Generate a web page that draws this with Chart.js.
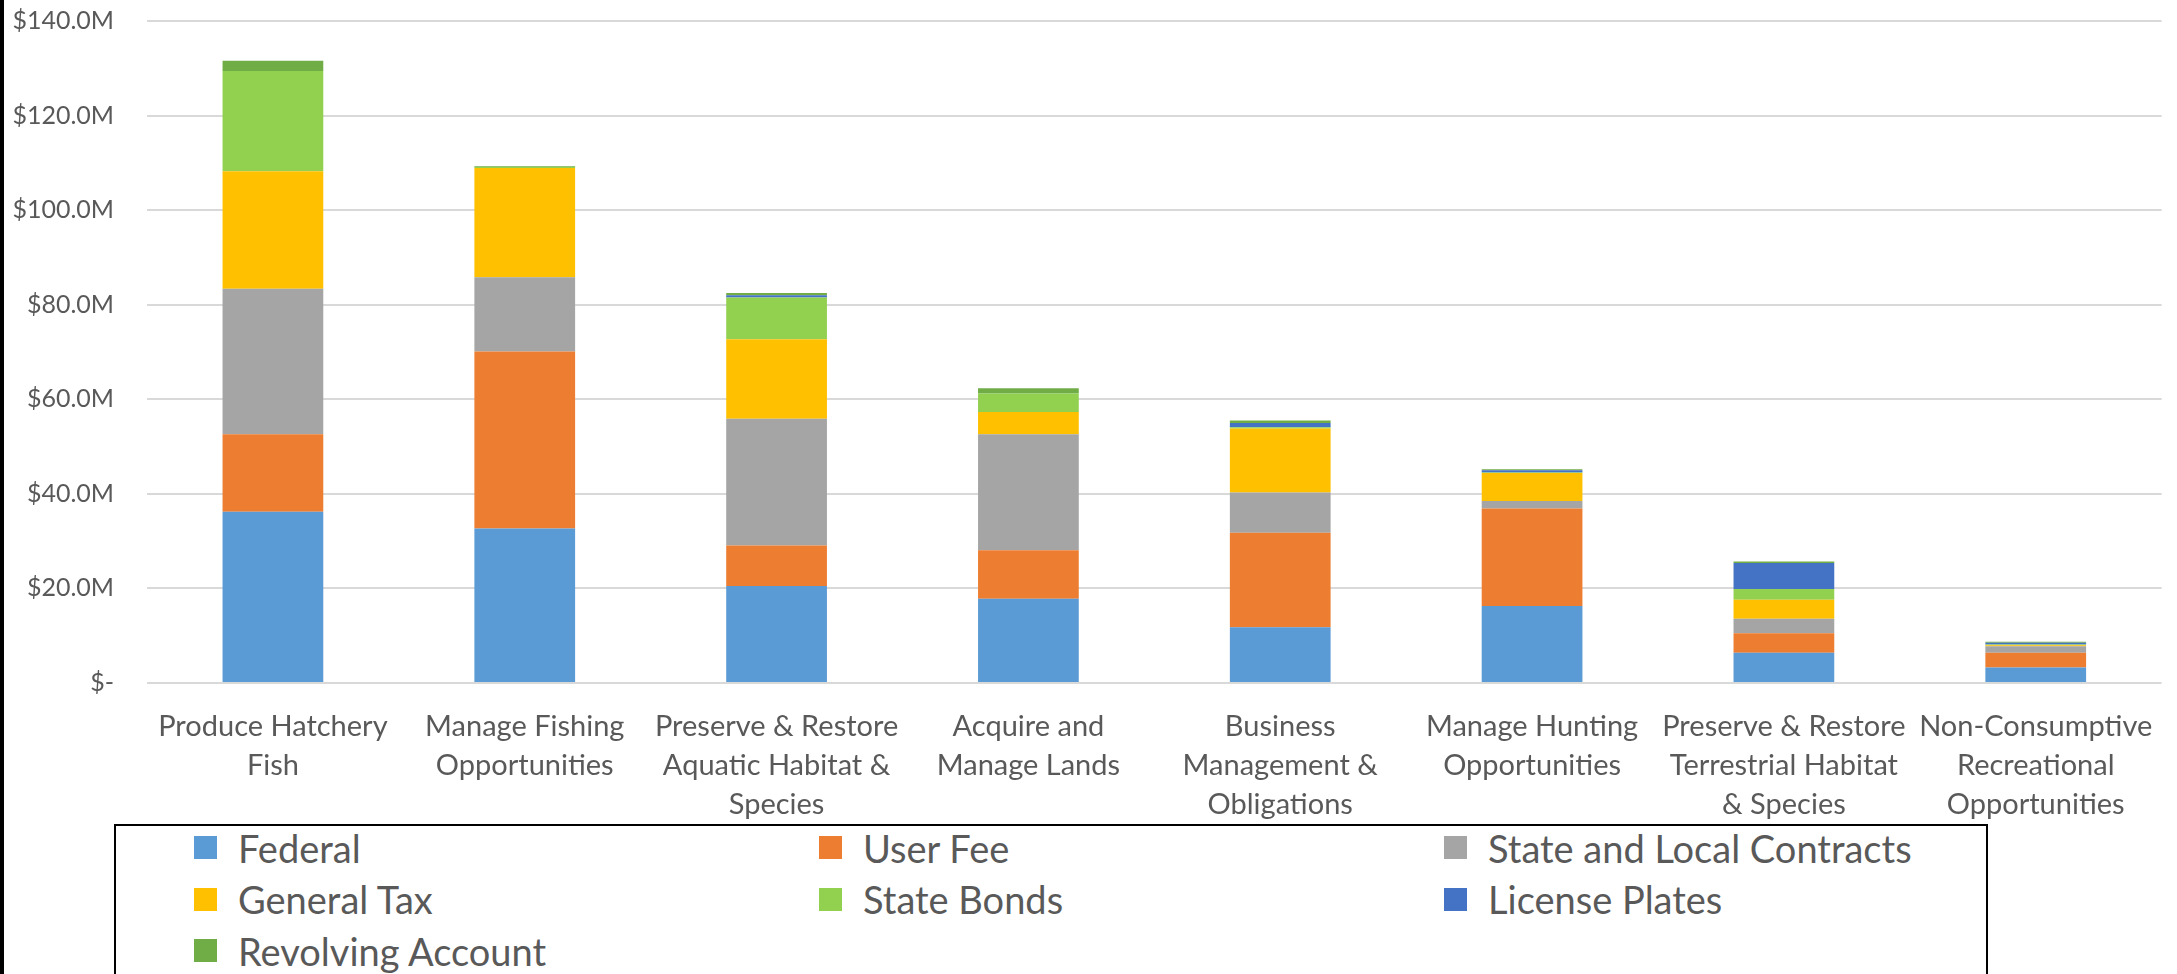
<!DOCTYPE html>
<html lang="en">
<head>
    <meta charset="UTF-8">
    <title>Funding by Activity</title>
    <script src="https://cdn.jsdelivr.net/npm/chart.js"></script>
    <style>
        body { margin: 0; background: #fff; overflow: hidden; }
        #wrap { position: relative; width: 2177px; height: 974px; overflow: hidden; }
        #edge { position: absolute; left: 0; top: 0; width: 4px; height: 974px; background: #000; }
        #chart-box { position: absolute; left: 0; top: 0; width: 2177px; height: 822px; }
        #legend {
            position: absolute; left: 114px; top: 824px; width: 1874px; height: 300px;
            border: 2px solid #000; box-sizing: border-box;
            display: grid; grid-template-columns: 625px 625px 540px;
            grid-auto-rows: 51.5px; align-content: start; padding: 0 0 0 78px; margin: 0;
            font-family: Lato, "Open Sans", sans-serif; font-size: 38px; color: #595959;
        }
        #legend .item { display: flex; align-items: center; height: 51.5px; margin-top: -4px; }
        #legend .sw { width: 23px; height: 23px; margin-right: 21px; flex: none; }
    </style>
</head>
<body>
<div id="wrap">
    <div id="edge"></div>
    <div id="chart-box"><canvas id="funding"></canvas></div>
    <div id="legend"></div>
</div>

<script>
    // categories (label lines as in the picture)
    const categories = [
        ['Produce Hatchery', 'Fish'],
        ['Manage Fishing', 'Opportunities'],
        ['Preserve & Restore', 'Aquatic Habitat &', 'Species'],
        ['Acquire and', 'Manage Lands'],
        ['Business', 'Management &', 'Obligations'],
        ['Manage Hunting', 'Opportunities'],
        ['Preserve & Restore', 'Terrestrial Habitat', '& Species'],
        ['Non-Consumptive', 'Recreational', 'Opportunities']
    ];

    // values in $ millions
    const federal       = [36.2, 32.7, 20.5, 17.8, 11.8, 16.3, 6.4, 3.3];
    const userFee       = [16.4, 37.4, 8.6, 10.3, 20.0, 20.6, 4.1, 3.1];
    const stateLocal    = [30.8, 15.7, 26.8, 24.5, 8.5, 1.6, 3.1, 1.35];
    const generalTax    = [24.8, 23.1, 16.8, 4.7, 13.5, 5.9, 4.0, 0.25];
    const stateBonds    = [21.2, 0.2, 8.8, 3.95, 0.3, 0.1, 2.3, 0.15];
    const licensePlates = [0, 0, 0.5, 0, 0.9, 0.5, 5.5, 0.35];
    const revolving     = [2.2, 0.2, 0.5, 1.1, 0.5, 0.2, 0.3, 0.25];

    const yTicks = [0, 20, 40, 60, 80, 100, 120, 140];

    const series = [
        { label: 'Federal', data: federal, color: '#5B9BD5' },
        { label: 'User Fee', data: userFee, color: '#ED7D31' },
        { label: 'State and Local Contracts', data: stateLocal, color: '#A5A5A5' },
        { label: 'General Tax', data: generalTax, color: '#FFC000' },
        { label: 'State Bonds', data: stateBonds, color: '#92D050' },
        { label: 'License Plates', data: licensePlates, color: '#4472C4' },
        { label: 'Revolving Account', data: revolving, color: '#70AD47' }
    ];

    const textColor = '#595959';
    const fontFamily = 'Lato, "Open Sans", sans-serif';

    let chart = new Chart(document.getElementById('funding').getContext('2d'), {
        type: 'bar',
        data: {
            labels: categories,
            datasets: series.map(s => ({
                label: s.label,
                data: s.data,
                backgroundColor: s.color,
                borderWidth: 0,
                barPercentage: 0.4,
                categoryPercentage: 1.0
            }))
        },
        options: {
            responsive: true,
            maintainAspectRatio: false,
            animation: false,
            layout: { padding: { top: 21, right: 11, left: 0, bottom: 0 } },
            plugins: {
                legend: { display: false },
                tooltip: { enabled: false }
            },
            scales: {
                x: {
                    stacked: true,
                    grid: { display: false, drawTicks: false },
                    border: { display: false },
                    ticks: {
                        color: textColor,
                        padding: 24,
                        maxRotation: 0,
                        autoSkip: false,
                        font: { family: fontFamily, size: 29, lineHeight: 1.34 }
                    },
                    afterFit: s => { s.height = 822 - 683; }
                },
                y: {
                    stacked: true,
                    min: yTicks[0],
                    max: yTicks[yTicks.length - 1],
                    grid: { color: '#D9D9D9', lineWidth: 2, drawTicks: false },
                    border: { display: false },
                    afterBuildTicks: s => { s.ticks = yTicks.map(v => ({ value: v })); },
                    ticks: {
                        color: textColor,
                        padding: 33,
                        font: { family: fontFamily, size: 25 },
                        callback: v => v === 0 ? '$-' : '$' + v.toFixed(1) + 'M'
                    },
                    // fixed axis width; tick padding should not push the plot down
                    afterFit: s => { s.width = 147; s.paddingTop = 16; s.paddingBottom = 16; }
                }
            }
        }
    });

    // legend in three columns like the original
    let legend = document.getElementById('legend');
    legend.innerHTML = '';
    chart.data.datasets.forEach(ds => {
        let item = document.createElement('div');
        item.className = 'item';
        let sw = document.createElement('span');
        sw.className = 'sw';
        sw.style.background = ds.backgroundColor;
        let txt = document.createElement('span');
        txt.innerText = ds.label;
        item.appendChild(sw);
        item.appendChild(txt);
        legend.appendChild(item);
    });
</script>
</body>
</html>
